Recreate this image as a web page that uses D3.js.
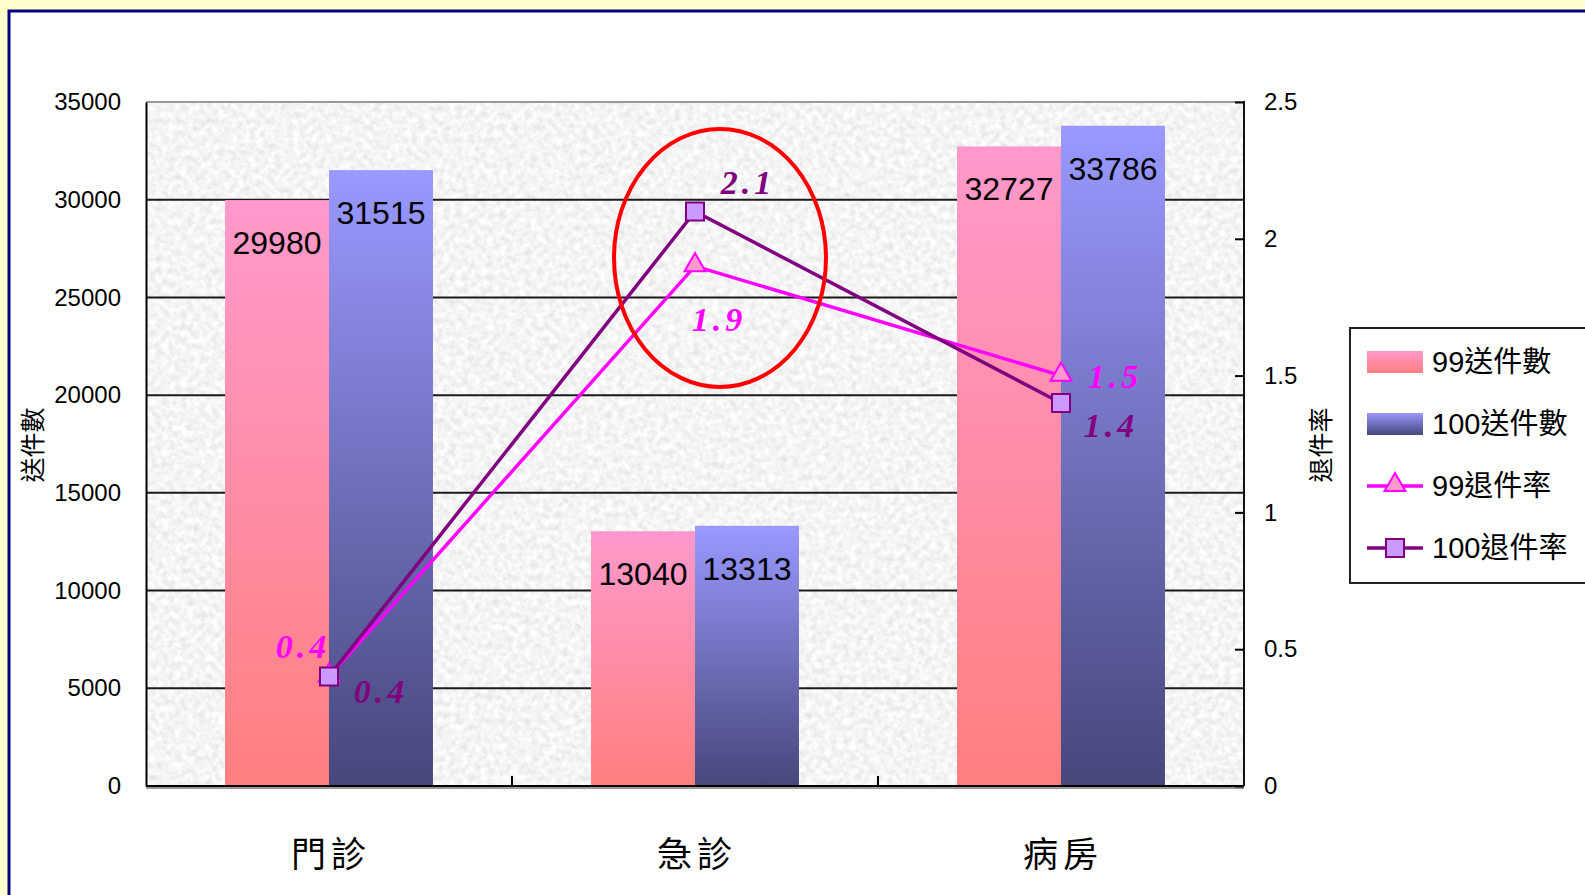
<!DOCTYPE html>
<html>
<head>
  <meta charset="utf-8">
  <script src="https://d3js.org/d3.v7.min.js"></script>
<style>
  body { margin: 0; background: #ffffcc; }
  svg { display: block; }
  text { font-family: 'Liberation Sans', 'Noto Sans CJK TC', sans-serif; fill: #000; }
  .lbl { font-family: 'Liberation Serif', serif; font-weight: bold; font-style: italic; font-size: 34px; letter-spacing: 4px; }
</style>
</head>
<body>
<svg id="chart"></svg>
<script>
  'use strict';

  var categories = ["門診", "急診", "病房"];
  var barSeries = ["99送件數", "100送件數"];
  var sent99 = [29980, 13040, 32727];
  var sent100 = [31515, 13313, 33786];
  var rate99 = [0.4, 1.9, 1.5];
  var rate100 = [0.4, 2.1, 1.4];
  var leftTicks = [0, 5000, 10000, 15000, 20000, 25000, 30000, 35000];
  var rightTicks = [0, 0.5, 1, 1.5, 2, 2.5];

  // label offsets for the rate values (dx, dy from point)
  var off99 = [[-26, -30], [24, 53], [54, 0]];
  var off100 = [[52, 15], [53, -29], [50, 22]];

  var width = 1585, height = 895;
  var plot = {left: 146, right: 1244, top: 102, bottom: 786};

  var svg = d3.select("#chart").attr("width", width).attr("height", height);
  var defs = svg.append("defs");

  // granite texture
  var f = defs.append("filter").attr("id", "granite")
    .attr("filterUnits", "userSpaceOnUse")
    .attr("x", plot.left).attr("y", plot.top)
    .attr("width", plot.right - plot.left).attr("height", plot.bottom - plot.top);
  f.append("feTurbulence").attr("type", "fractalNoise")
    .attr("baseFrequency", 0.16).attr("numOctaves", 3).attr("seed", 7);
  f.append("feColorMatrix").attr("type", "matrix")
    .attr("values", "0.36 0 0 0 0.73  0.36 0 0 0 0.73  0.36 0 0 0 0.73  0 0 0 0 1");

  function grad(id, top, bottom) {
    var g = defs.append("linearGradient").attr("id", id)
      .attr("x1", 0).attr("y1", 0).attr("x2", 0).attr("y2", 1);
    g.append("stop").attr("offset", "0%").attr("stop-color", top);
    g.append("stop").attr("offset", "100%").attr("stop-color", bottom);
  }
  grad("g99", "#ff99cc", "#ff7f7f");
  grad("g100", "#9999ff", "#46477a");
  var fills = {"99送件數": "url(#g99)", "100送件數": "url(#g100)"};

  // white panel with navy frame
  svg.append("rect").attr("x", 9).attr("y", 11).attr("width", width + 20).attr("height", height + 20)
    .attr("fill", "#fff").attr("stroke", "#000080").attr("stroke-width", 3);

  var x = d3.scaleBand().domain(categories).range([plot.left, plot.right]).padding(0);
  var x1 = d3.scaleBand().domain(barSeries).range([0, x.bandwidth()]).paddingInner(0).paddingOuter(0.76);
  var y = d3.scaleLinear().domain([0, 35000]).range([plot.bottom, plot.top]);
  var yR = d3.scaleLinear().domain([0, 2.5]).range([plot.bottom, plot.top]);

  svg.append("rect").attr("x", plot.left).attr("y", plot.top)
    .attr("width", plot.right - plot.left).attr("height", plot.bottom - plot.top)
    .attr("filter", "url(#granite)");

  // gridlines
  svg.append("g").selectAll("line")
    .data(leftTicks.filter(function(d){ return d > 0 && d < 35000; }))
    .enter().append("line")
    .attr("x1", plot.left).attr("x2", plot.right)
    .attr("y1", function(d){ return y(d); }).attr("y2", function(d){ return y(d); })
    .attr("stroke", "#1a1a1a").attr("stroke-width", 2);

  // bars
  var rows = categories.map(function(c, i){
    return {cat: c, vals: [{s: barSeries[0], v: sent99[i]}, {s: barSeries[1], v: sent100[i]}]};
  });
  var grp = svg.append("g").selectAll("g").data(rows).enter().append("g")
    .attr("transform", function(d){ return "translate(" + x(d.cat) + ",0)"; });
  grp.selectAll("rect").data(function(d){ return d.vals; }).enter().append("rect")
    .attr("x", function(d){ return x1(d.s); })
    .attr("y", function(d){ return y(d.v); })
    .attr("width", x1.bandwidth())
    .attr("height", function(d){ return plot.bottom - y(d.v); })
    .attr("fill", function(d){ return fills[d.s]; });
  grp.selectAll("text").data(function(d){ return d.vals; }).enter().append("text")
    .attr("x", function(d){ return x1(d.s) + x1.bandwidth() / 2; })
    .attr("y", function(d){ return y(d.v) + 54; })
    .attr("text-anchor", "middle")
    .style("font-size", "32px")
    .text(function(d){ return d.v; });

  // frame of plot
  svg.append("line").attr("x1", plot.left).attr("x2", plot.right).attr("y1", plot.top).attr("y2", plot.top)
    .attr("stroke", "#9a9a9a").attr("stroke-width", 2);
  svg.append("line").attr("x1", plot.right).attr("x2", plot.right).attr("y1", plot.top - 1).attr("y2", plot.bottom)
    .attr("stroke", "#111").attr("stroke-width", 2);
  svg.append("line").attr("x1", plot.left).attr("x2", plot.right).attr("y1", plot.bottom + 2).attr("y2", plot.bottom + 2)
    .attr("stroke", "#999").attr("stroke-width", 2);

  // left axis
  var ax = svg.append("g").attr("transform", "translate(" + plot.left + ",0)")
    .call(d3.axisLeft(y).tickValues(leftTicks).tickSize(0).tickPadding(25).tickFormat(d3.format("d")));
  ax.select(".domain").attr("stroke", "#000").attr("stroke-width", 2);
  ax.selectAll("text").style("font-size", "24px").style("font-family", "'Liberation Sans', sans-serif");

  // right axis
  var axR = svg.append("g").attr("transform", "translate(" + plot.right + ",0)")
    .call(d3.axisRight(yR).tickValues(rightTicks).tickSizeInner(-9).tickSizeOuter(0).tickPadding(20)
      .tickFormat(function(d){ return String(d); }));
  axR.select(".domain").remove();
  axR.selectAll("line").attr("stroke", "#000").attr("stroke-width", 2);
  axR.selectAll("text").style("font-size", "24px").style("font-family", "'Liberation Sans', sans-serif");

  // bottom axis
  svg.append("line").attr("x1", plot.left).attr("x2", plot.right).attr("y1", plot.bottom).attr("y2", plot.bottom)
    .attr("stroke", "#000").attr("stroke-width", 2);
  svg.append("g").selectAll("line").data(categories.slice(1)).enter().append("line")
    .attr("x1", function(d){ return x(d); }).attr("x2", function(d){ return x(d); })
    .attr("y1", plot.bottom).attr("y2", plot.bottom - 10)
    .attr("stroke", "#000").attr("stroke-width", 2);
  svg.append("g").selectAll("text").data(categories).enter().append("text")
    .attr("x", function(d){ return x(d) + x.bandwidth() / 2 + 2; })
    .attr("y", 867)
    .attr("text-anchor", "middle")
    .style("font-size", "35px").style("letter-spacing", "5px")
    .style("font-family", "'Noto Sans CJK TC', sans-serif")
    .text(function(d){ return d; });

  // axis titles
  svg.append("text").attr("transform", "translate(42,445) rotate(-90)")
    .attr("text-anchor", "middle").style("font-size", "25px")
    .style("font-family", "'Noto Sans CJK TC', sans-serif").text("送件數");
  svg.append("text").attr("transform", "translate(1330,445) rotate(-90)")
    .attr("text-anchor", "middle").style("font-size", "25px")
    .style("font-family", "'Noto Sans CJK TC', sans-serif").text("退件率");

  // rate lines
  var cx = function(i){ return x(categories[i]) + x.bandwidth() / 2; };
  var line = d3.line().x(function(d, i){ return cx(i); }).y(function(d){ return yR(d); });
  var tri = d3.symbol().type(d3.symbolTriangle).size(190);
  var sq = d3.symbol().type(d3.symbolSquare).size(324);

  svg.append("path").datum(rate99).attr("d", line)
    .attr("fill", "none").attr("stroke", "#ff00ff").attr("stroke-width", 3.5);
  svg.append("path").datum(rate100).attr("d", line)
    .attr("fill", "none").attr("stroke", "#800080").attr("stroke-width", 3.5);

  svg.append("g").selectAll("path").data(rate99).enter().append("path")
    .attr("d", tri)
    .attr("transform", function(d, i){ return "translate(" + cx(i) + "," + (yR(d) - 1) + ")"; })
    .attr("fill", "#ff99cc").attr("stroke", "#ff00ff").attr("stroke-width", 2);
  svg.append("g").selectAll("path").data(rate100).enter().append("path")
    .attr("d", sq)
    .attr("transform", function(d, i){ return "translate(" + cx(i) + "," + yR(d) + ")"; })
    .attr("fill", "#cc99ff").attr("stroke", "#800080").attr("stroke-width", 2);

  svg.append("g").selectAll("text").data(rate99).enter().append("text")
    .attr("class", "lbl")
    .attr("x", function(d, i){ return cx(i) + off99[i][0]; })
    .attr("y", function(d, i){ return yR(d) + off99[i][1]; })
    .attr("text-anchor", "middle").attr("dy", "0.35em")
    .style("fill", "#ff00ff")
    .text(function(d){ return d; });
  svg.append("g").selectAll("text").data(rate100).enter().append("text")
    .attr("class", "lbl")
    .attr("x", function(d, i){ return cx(i) + off100[i][0]; })
    .attr("y", function(d, i){ return yR(d) + off100[i][1]; })
    .attr("text-anchor", "middle").attr("dy", "0.35em")
    .style("fill", "#800080")
    .text(function(d){ return d; });

  // red highlight around 急診
  svg.append("ellipse")
    .attr("cx", cx(1) + 25).attr("cy", yR(1.93))
    .attr("rx", 106).attr("ry", 129)
    .attr("fill", "none").attr("stroke", "#ff0000").attr("stroke-width", 4);

  // legend
  var lg = svg.append("g").attr("transform", "translate(1350,328)");
  lg.append("rect").attr("width", 250).attr("height", 255)
    .attr("fill", "#fff").attr("stroke", "#222").attr("stroke-width", 2);
  var items = [
    {name: barSeries[0], kind: "bar", fill: "url(#g99)"},
    {name: barSeries[1], kind: "bar", fill: "url(#g100)"},
    {name: "99退件率", kind: "tri"},
    {name: "100退件率", kind: "sq"}
  ];
  var li = lg.selectAll("g").data(items).enter().append("g")
    .attr("transform", function(d, i){ return "translate(0," + (34 + i * 62) + ")"; });
  li.filter(function(d){ return d.kind === "bar"; }).append("rect")
    .attr("x", 17).attr("y", -11).attr("width", 56).attr("height", 22)
    .attr("fill", function(d){ return d.fill; });
  li.filter(function(d){ return d.kind !== "bar"; }).append("line")
    .attr("x1", 17).attr("x2", 73)
    .attr("stroke", function(d){ return d.kind === "tri" ? "#ff00ff" : "#800080"; })
    .attr("stroke-width", 3.5);
  li.filter(function(d){ return d.kind === "tri"; }).append("path")
    .attr("d", tri).attr("transform", "translate(45,-1)")
    .attr("fill", "#ff99cc").attr("stroke", "#ff00ff").attr("stroke-width", 2);
  li.filter(function(d){ return d.kind === "sq"; }).append("path")
    .attr("d", sq).attr("transform", "translate(45,0)")
    .attr("fill", "#cc99ff").attr("stroke", "#800080").attr("stroke-width", 2);
  li.append("text").attr("x", 82).attr("dy", "0.35em")
    .style("font-size", "29px")
    .text(function(d){ return d.name; });
</script>
</body>
</html>
